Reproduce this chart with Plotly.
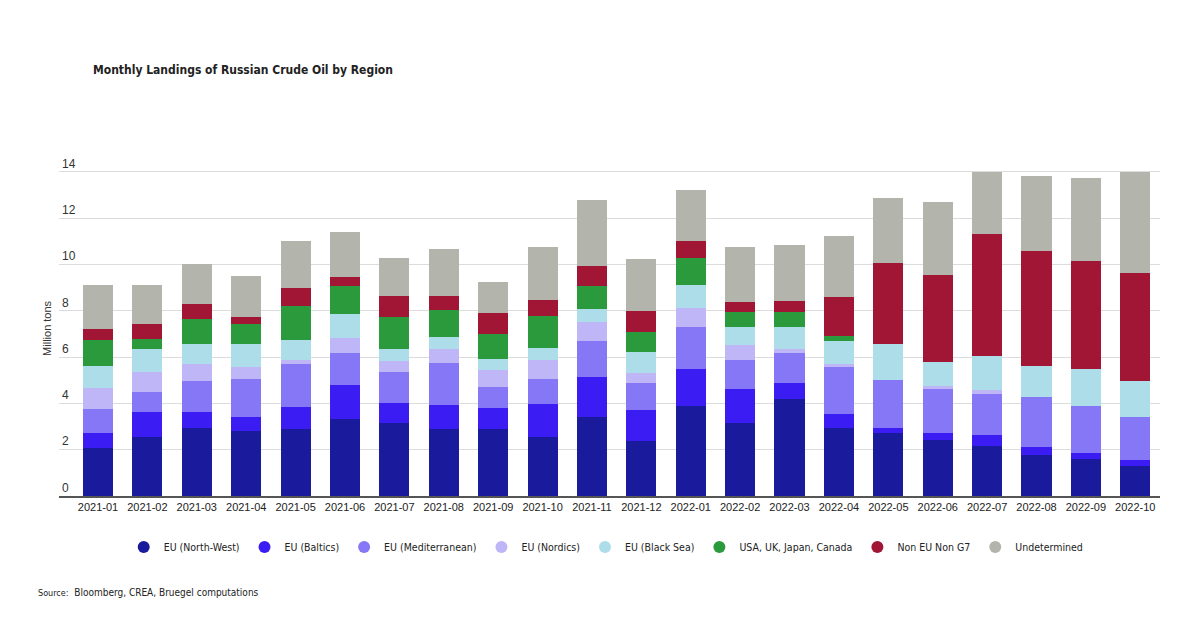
import plotly.graph_objects as go

months = ["2021-01", "2021-02", "2021-03", "2021-04", "2021-05", "2021-06", "2021-07", "2021-08",
          "2021-09", "2021-10", "2021-11", "2021-12", "2022-01", "2022-02", "2022-03", "2022-04",
          "2022-05", "2022-06", "2022-07", "2022-08", "2022-09", "2022-10"]

eu_north_west = [2.09, 2.56, 2.94, 2.81, 2.88, 3.33, 3.15, 2.88, 2.88, 2.56, 3.41, 2.38,
                 3.89, 3.15, 4.18, 2.94, 2.74, 2.42, 2.17, 1.79, 1.59, 1.30]
eu_baltics = [0.62, 1.08, 0.70, 0.60, 0.97, 1.47, 0.87, 1.05, 0.91, 1.42, 1.72, 1.35,
              1.60, 1.47, 0.70, 0.60, 0.21, 0.29, 0.47, 0.31, 0.28, 0.26]
eu_mediterranean = [1.04, 0.87, 1.33, 1.63, 1.83, 1.38, 1.35, 1.80, 0.93, 1.06, 1.58, 1.17,
                    1.80, 1.26, 1.31, 2.05, 2.06, 1.93, 1.77, 2.16, 2.02, 1.84]
eu_nordics = [0.92, 0.86, 0.75, 0.53, 0.20, 0.65, 0.45, 0.64, 0.74, 0.85, 0.81, 0.43,
              0.83, 0.63, 0.18, 0.11, 0.0, 0.10, 0.17, 0.0, 0.0, 0.0]
eu_black_sea = [0.95, 0.98, 0.83, 0.98, 0.85, 1.02, 0.53, 0.51, 0.45, 0.49, 0.56, 0.89,
                1.01, 0.81, 0.95, 0.98, 1.56, 1.06, 1.48, 1.36, 1.60, 1.58]
usa_uk_japan_canada = [1.11, 0.45, 1.11, 0.88, 1.47, 1.20, 1.36, 1.16, 1.10, 1.41, 0.97, 0.88,
                       1.16, 0.62, 0.62, 0.25, 0.0, 0.0, 0.0, 0.0, 0.0, 0.0]
non_eu_non_g7 = [0.49, 0.63, 0.62, 0.32, 0.79, 0.40, 0.92, 0.59, 0.88, 0.68, 0.89, 0.90,
                 0.73, 0.44, 0.50, 1.67, 3.51, 3.74, 5.26, 4.98, 4.68, 4.64]
undetermined = [1.90, 1.69, 1.75, 1.77, 2.04, 1.97, 1.66, 2.04, 1.34, 2.28, 2.85, 2.24,
                2.20, 2.39, 2.41, 2.61, 2.78, 3.14, 2.68, 3.20, 3.56, 4.38]

series_names = ["EU (North-West)", "EU (Baltics)", "EU (Mediterranean)", "EU (Nordics)",
                "EU (Black Sea)", "USA, UK, Japan, Canada", "Non EU Non G7", "Undetermined"]
series_values = [eu_north_west, eu_baltics, eu_mediterranean, eu_nordics,
                 eu_black_sea, usa_uk_japan_canada, non_eu_non_g7, undetermined]
colors = ["#1A1A9C", "#3B1CF2", "#8677F7", "#BEB6F7", "#ADDDE9", "#2B9A3D", "#A11535", "#B3B4AB"]

fig = go.Figure()
for name, vals, col in zip(series_names, series_values, colors):
    fig.add_trace(go.Bar(x=months, y=vals, name=name, marker=dict(color=col, line=dict(width=0)),
                         showlegend=False))
for name, col in zip(series_names, colors):
    fig.add_trace(go.Scatter(x=[None], y=[None], mode="markers", name=name,
                             marker=dict(symbol="circle", size=14, color=col)))

font_cond = "DejaVu Sans Condensed, Liberation Sans Narrow, Roboto Condensed, sans-serif"

# plot area: y=0 at 496px, y=14 at 172px -> 23.14 px/unit; extend top to leave room for "14" label
y_top = 14.9
plot_top = 496 - y_top * (324 / 14)
plot_h = 496 - plot_top

def py(px):
    return (496 - px) / plot_h

def px_x(px):
    return (px - 59) / 1101

fig.update_layout(
    barmode="stack",
    bargap=0.39,
    width=1200, height=640,
    margin=dict(l=59, r=40, t=plot_top, b=144),
    plot_bgcolor="white", paper_bgcolor="white",
    font=dict(family="Liberation Sans, Arial, sans-serif", size=11, color="#333333"),
    showlegend=True,
    legend=dict(orientation="h", x=0.497, xanchor="center", y=py(547), yanchor="middle",
                font=dict(family=font_cond, size=10.5, color="#222222"),
                itemsizing="constant", traceorder="normal"),
    xaxis=dict(type="category", range=[-0.79, 21.5], showgrid=False, showline=True,
               linecolor="#555555", linewidth=2, ticks="", tickfont=dict(size=11, color="#222222"),
               fixedrange=True),
    yaxis=dict(range=[0, y_top], tickvals=[0, 2, 4, 6, 8, 10, 12, 14], showgrid=True,
               gridcolor="#DCDCDC", gridwidth=1,
               zeroline=False, ticklabelposition="inside top", ticks="",
               tickfont=dict(size=12, color="#333333"), fixedrange=True),
    annotations=[
        dict(text="<b>Monthly Landings of Russian Crude Oil by Region</b>", xref="paper", yref="paper",
             x=px_x(91), y=py(70), xanchor="left", yanchor="middle",
             showarrow=False, font=dict(family=font_cond, size=12, color="#222222")),
        dict(text="Million tons", xref="paper", yref="paper", x=px_x(47),
             y=py(328), xanchor="center", yanchor="middle", textangle=-90,
             showarrow=False, font=dict(family="Liberation Sans, Arial, sans-serif", size=11, color="#333333")),
        dict(text="<span style='font-size:9px'>Source:</span>  Bloomberg, CREA, Bruegel computations",
             xref="paper", yref="paper", x=px_x(36), y=py(592),
             xanchor="left", yanchor="middle", showarrow=False,
             font=dict(family=font_cond, size=10, color="#222222")),
    ],
)

fig.write_html("out.html", config={"displayModeBar": False},
               post_script="document.body.style.margin='0';")
